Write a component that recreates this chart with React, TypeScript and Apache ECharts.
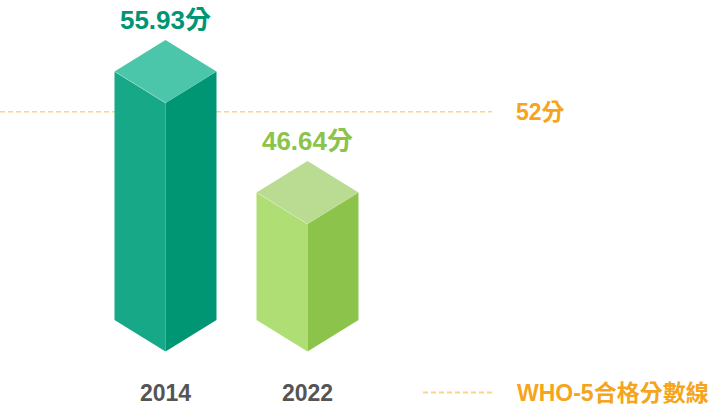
import React, { useEffect, useRef } from "react";
import * as echarts from "echarts";

const years = ["2014", "2022"];
const scores = [55.93, 46.64];
const passLine = 52;
const passLineName = "WHO-5合格分數線";
const yMin = 36;
const yMax = 60;

const topColors = ["#4CC6AA", "#BADB92"];
const leftColors = ["#17A987", "#AFDE74"];
const rightColors = ["#009573", "#8CC34A"];
const labelColors = ["#009573", "#8CC34A"];
const orange = "#F5A41B";
const dashColor = "#FCD387";
const FONT = "'Liberation Sans', 'Noto Sans CJK TC', sans-serif";

export default function App() {
  const ref = useRef<HTMLDivElement>(null);
  useEffect(() => {
    if (!ref.current) return;
    const chart = echarts.init(ref.current, null, { renderer: "svg" });
    const W = 51;
    const H = 31.5;
    const OFF = 20.5;
    const option: any = {
      animation: false,
      textStyle: { fontFamily: FONT },
      legend: {
        data: [passLineName],
        left: 417,
        top: 376,
        padding: 5,
        itemWidth: 69,
        itemHeight: 14,
        itemStyle: { color: "rgba(0,0,0,0)", opacity: 0, borderWidth: 0 },
        textStyle: {
          color: orange,
          fontSize: 23,
          fontWeight: "bold",
          fontFamily: FONT,
          padding: [0, 0, 0, 20],
        },
      },
      grid: [
        { left: 94.5, width: 284, top: 7.5, bottom: 89 },
        { left: 0, right: 223, top: 7.5, bottom: 89 },
      ],
      xAxis: [
        {
          type: "category",
          gridIndex: 0,
          data: years,
          axisLine: { show: false },
          axisTick: { show: false },
          axisLabel: {
            margin: 61,
            color: "#555555",
            fontSize: 23,
            fontWeight: "bold",
            fontFamily: FONT,
          },
        },
        { type: "value", gridIndex: 1, min: 0, max: 1, show: false },
      ],
      yAxis: [
        { type: "value", gridIndex: 0, min: yMin, max: yMax, show: false },
        { type: "value", gridIndex: 1, min: yMin, max: yMax, show: false },
      ],
      series: [
        {
          type: "custom",
          xAxisIndex: 0,
          yAxisIndex: 0,
          z: 10,
          data: scores.map((v, i) => [i, v]),
          renderItem: (params: any, api: any) => {
            const i = params.dataIndex;
            const p = api.coord([api.value(0), api.value(1)]);
            const b = api.coord([api.value(0), yMin]);
            const cx = p[0];
            const ty = p[1] - OFF;
            const by = b[1];
            return {
              type: "group",
              children: [
                {
                  type: "polygon",
                  shape: {
                    points: [
                      [cx - W, ty + H],
                      [cx, ty + 2 * H],
                      [cx, by + H],
                      [cx - W, by],
                    ],
                  },
                  style: { fill: leftColors[i] },
                },
                {
                  type: "polygon",
                  shape: {
                    points: [
                      [cx + W, ty + H],
                      [cx, ty + 2 * H],
                      [cx, by + H],
                      [cx + W, by],
                    ],
                  },
                  style: { fill: rightColors[i] },
                },
                {
                  type: "polygon",
                  shape: {
                    points: [
                      [cx, ty],
                      [cx + W, ty + H],
                      [cx, ty + 2 * H],
                      [cx - W, ty + H],
                    ],
                  },
                  style: { fill: topColors[i] },
                },
                {
                  type: "polyline",
                  shape: {
                    points: [
                      [cx - W, ty + H],
                      [cx, ty + 2 * H],
                    ],
                  },
                  style: { stroke: "rgba(255,255,255,0.35)", lineWidth: 0.8, fill: "none" },
                },
                {
                  type: "text",
                  style: {
                    text: scores[i] + "分",
                    x: cx,
                    y: ty - 20,
                    align: "center",
                    verticalAlign: "middle",
                    fill: labelColors[i],
                    fontSize: 26,
                    fontWeight: "bold",
                    fontFamily: FONT,
                  },
                },
              ],
            };
          },
        },
        {
          type: "line",
          name: passLineName,
          xAxisIndex: 1,
          yAxisIndex: 1,
          z: 1,
          clip: false,
          data: [
            [0, passLine],
            [1, passLine],
          ],
          symbol: "none",
          silent: true,
          color: dashColor,
          lineStyle: { type: [5, 3], color: dashColor, width: 1.5 },
          endLabel: {
            show: true,
            distance: 24,
            formatter: passLine + "分",
            color: orange,
            fontSize: 23,
            fontWeight: "bold",
            fontFamily: FONT,
          },
        },
      ],
    };
    chart.setOption(option);
    return () => chart.dispose();
  }, []);
  return (
    <div
      ref={ref}
      style={{ position: "absolute", left: 0, top: 0, width: 715, height: 409 }}
    />
  );
}
